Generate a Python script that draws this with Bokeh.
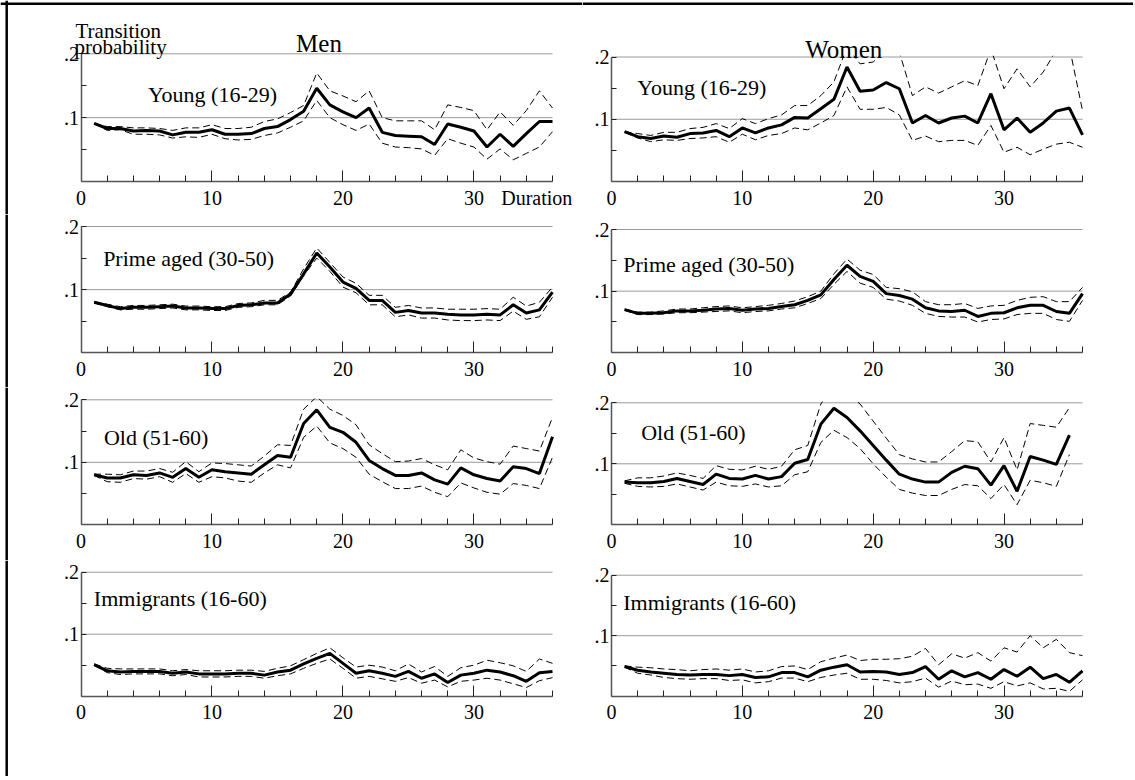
from bokeh.plotting import figure
from bokeh.layouts import row, column
from bokeh.models import Range1d, FixedTicker, Label, Span, BoxAnnotation
from bokeh.embed import file_html
from bokeh.resources import INLINE

duration = list(range(1, 37))
duration35 = list(range(1, 36))

men_young = [0.091,0.083,0.083,0.079,0.080,0.079,0.073,0.077,0.077,0.081,0.074,0.074,0.075,0.083,0.086,0.097,0.110,0.146,0.120,0.109,0.100,0.115,0.077,0.072,0.071,0.070,0.058,0.090,0.085,0.079,0.054,0.074,0.055,0.075,0.094,0.094]
men_young_hi = [0.091,0.086,0.086,0.084,0.084,0.083,0.080,0.084,0.084,0.089,0.083,0.083,0.085,0.094,0.098,0.108,0.119,0.170,0.142,0.134,0.125,0.142,0.100,0.095,0.095,0.095,0.081,0.120,0.116,0.111,0.081,0.109,0.088,0.111,0.142,0.115]
men_young_lo = [0.091,0.080,0.081,0.074,0.074,0.073,0.068,0.070,0.069,0.074,0.067,0.065,0.066,0.072,0.076,0.085,0.095,0.127,0.100,0.089,0.080,0.090,0.060,0.054,0.053,0.051,0.041,0.067,0.060,0.054,0.035,0.051,0.034,0.044,0.054,0.078]

women_young = [0.080,0.072,0.069,0.073,0.071,0.077,0.078,0.082,0.072,0.086,0.078,0.086,0.091,0.103,0.102,0.117,0.132,0.184,0.145,0.147,0.159,0.149,0.094,0.106,0.094,0.102,0.105,0.094,0.141,0.083,0.102,0.079,0.094,0.113,0.118,0.075]
women_young_hi = [0.080,0.077,0.074,0.079,0.079,0.085,0.087,0.093,0.085,0.101,0.093,0.101,0.107,0.122,0.122,0.138,0.160,0.216,0.189,0.192,0.211,0.208,0.138,0.152,0.142,0.152,0.162,0.154,0.213,0.149,0.181,0.152,0.176,0.211,0.216,0.114]
women_young_lo = [0.079,0.070,0.064,0.067,0.066,0.069,0.070,0.072,0.063,0.076,0.067,0.074,0.077,0.086,0.083,0.094,0.106,0.152,0.116,0.116,0.119,0.107,0.066,0.073,0.064,0.066,0.066,0.058,0.090,0.047,0.055,0.043,0.052,0.060,0.063,0.055]

men_prime = [0.080,0.075,0.070,0.072,0.072,0.073,0.074,0.071,0.071,0.070,0.070,0.075,0.076,0.079,0.079,0.093,0.125,0.158,0.136,0.112,0.102,0.083,0.083,0.064,0.067,0.063,0.063,0.061,0.060,0.060,0.061,0.060,0.076,0.063,0.068,0.096]
men_prime_hi = [0.081,0.077,0.073,0.075,0.075,0.076,0.077,0.074,0.074,0.073,0.073,0.078,0.079,0.083,0.083,0.096,0.133,0.166,0.143,0.120,0.110,0.091,0.091,0.072,0.075,0.071,0.071,0.069,0.069,0.069,0.070,0.069,0.088,0.074,0.080,0.104]
men_prime_lo = [0.079,0.073,0.068,0.069,0.069,0.070,0.071,0.068,0.068,0.067,0.067,0.072,0.073,0.076,0.076,0.090,0.122,0.150,0.129,0.104,0.095,0.076,0.076,0.057,0.060,0.055,0.055,0.052,0.051,0.051,0.052,0.051,0.066,0.053,0.057,0.088]

women_prime = [0.070,0.064,0.064,0.065,0.068,0.068,0.069,0.071,0.072,0.069,0.071,0.072,0.075,0.078,0.085,0.094,0.119,0.142,0.124,0.116,0.096,0.093,0.087,0.073,0.068,0.067,0.069,0.059,0.064,0.065,0.073,0.077,0.077,0.067,0.064,0.096]
women_prime_hi = [0.071,0.066,0.066,0.068,0.071,0.071,0.073,0.075,0.076,0.073,0.075,0.077,0.080,0.084,0.091,0.100,0.128,0.152,0.134,0.127,0.106,0.104,0.099,0.083,0.078,0.078,0.080,0.072,0.076,0.077,0.085,0.090,0.091,0.083,0.083,0.106]
women_prime_lo = [0.069,0.062,0.062,0.063,0.065,0.065,0.066,0.067,0.068,0.065,0.067,0.068,0.071,0.073,0.080,0.088,0.111,0.132,0.113,0.106,0.087,0.084,0.077,0.064,0.059,0.058,0.058,0.050,0.054,0.055,0.062,0.064,0.064,0.054,0.051,0.085]

men_old = [0.080,0.075,0.075,0.080,0.079,0.083,0.076,0.090,0.076,0.088,0.085,0.083,0.081,0.096,0.111,0.108,0.162,0.184,0.156,0.148,0.132,0.103,0.090,0.079,0.079,0.083,0.072,0.065,0.091,0.080,0.074,0.070,0.093,0.090,0.082,0.141]
men_old_hi = [0.081,0.081,0.080,0.086,0.086,0.090,0.084,0.101,0.085,0.099,0.098,0.096,0.094,0.110,0.128,0.127,0.185,0.205,0.185,0.175,0.160,0.128,0.114,0.101,0.102,0.106,0.096,0.088,0.120,0.107,0.101,0.097,0.126,0.122,0.118,0.172]
men_old_lo = [0.079,0.069,0.068,0.074,0.073,0.077,0.068,0.082,0.068,0.077,0.075,0.070,0.068,0.083,0.096,0.091,0.140,0.158,0.131,0.122,0.108,0.081,0.069,0.058,0.058,0.062,0.052,0.045,0.067,0.059,0.052,0.049,0.066,0.063,0.058,0.108]

women_old = [0.070,0.069,0.069,0.071,0.076,0.071,0.066,0.083,0.076,0.075,0.081,0.075,0.079,0.101,0.107,0.165,0.191,0.176,0.154,0.130,0.106,0.083,0.075,0.070,0.070,0.086,0.096,0.092,0.065,0.097,0.055,0.112,0.106,0.099,0.147]
women_old_hi = [0.072,0.077,0.077,0.080,0.085,0.081,0.076,0.097,0.091,0.090,0.096,0.091,0.096,0.123,0.130,0.198,0.230,0.215,0.198,0.170,0.142,0.115,0.108,0.103,0.103,0.120,0.138,0.136,0.103,0.143,0.090,0.166,0.163,0.160,0.192]
women_old_lo = [0.068,0.063,0.062,0.063,0.067,0.062,0.057,0.070,0.064,0.063,0.067,0.062,0.064,0.082,0.087,0.135,0.155,0.143,0.125,0.100,0.078,0.058,0.052,0.048,0.048,0.058,0.066,0.064,0.043,0.066,0.033,0.073,0.069,0.063,0.115]

men_imm = [0.051,0.041,0.039,0.040,0.040,0.040,0.037,0.039,0.036,0.036,0.036,0.037,0.037,0.034,0.039,0.042,0.052,0.061,0.069,0.053,0.037,0.041,0.037,0.032,0.040,0.029,0.036,0.022,0.034,0.037,0.042,0.039,0.033,0.024,0.038,0.040]
men_imm_hi = [0.052,0.045,0.044,0.044,0.044,0.044,0.041,0.043,0.041,0.041,0.041,0.042,0.042,0.040,0.045,0.049,0.059,0.069,0.078,0.062,0.047,0.050,0.047,0.041,0.052,0.039,0.048,0.032,0.046,0.050,0.058,0.054,0.049,0.040,0.060,0.053]
men_imm_lo = [0.050,0.038,0.035,0.036,0.036,0.036,0.033,0.035,0.031,0.031,0.031,0.032,0.032,0.029,0.033,0.036,0.045,0.053,0.060,0.045,0.029,0.032,0.028,0.024,0.030,0.021,0.026,0.015,0.024,0.026,0.029,0.026,0.020,0.014,0.025,0.030]

women_imm = [0.049,0.043,0.040,0.038,0.036,0.035,0.036,0.036,0.034,0.036,0.031,0.032,0.039,0.039,0.032,0.043,0.048,0.052,0.040,0.041,0.040,0.036,0.039,0.049,0.028,0.042,0.032,0.039,0.028,0.044,0.033,0.048,0.029,0.036,0.023,0.042]
women_imm_hi = [0.050,0.048,0.047,0.045,0.044,0.042,0.044,0.045,0.043,0.045,0.040,0.042,0.049,0.050,0.044,0.057,0.063,0.068,0.059,0.061,0.061,0.062,0.066,0.079,0.052,0.070,0.063,0.072,0.058,0.080,0.073,0.100,0.080,0.094,0.072,0.067]
women_imm_lo = [0.048,0.038,0.035,0.031,0.029,0.028,0.029,0.029,0.026,0.027,0.022,0.024,0.030,0.030,0.024,0.031,0.035,0.038,0.028,0.028,0.026,0.022,0.024,0.030,0.015,0.025,0.019,0.020,0.013,0.024,0.017,0.022,0.012,0.013,0.008,0.027]

x_major = [0, 10, 20, 30]
x_minor = list(range(2, 37, 2))
y_major = [0.1, 0.2]
y_minor = [0.05, 0.15]
y_labels = {0.1: ".1", 0.2: ".2"}
X_LO, X_HI = 0, 36
Y_LO, Y_HI = 0.0, 0.2

FONT = "Liberation Serif"

# ---- page geometry in pixels (the layout starts at the page's top-left corner) ----
MEN_COL = dict(left=0, width=582, px0=80.5, px36=552.0)
WOMEN_COL = dict(left=582, width=551, px0=611.0, px36=1082.0)
ROWS = [  # canvas top, canvas height, page y of .2 (men, women), page y of 0
    dict(top=0, height=214, men_top=53.3, women_top=56.5, zero=181.0),
    dict(top=214, height=173, men_top=226.0, women_top=229.0, zero=352.3),
    dict(top=387, height=173, men_top=399.3, women_top=402.3, zero=524.3),
    dict(top=560, height=216, men_top=571.7, women_top=574.7, zero=695.7),
]


class Geo:
    def __init__(self, col, rw, top_key):
        self.left = col["left"]
        self.width = col["width"]
        self.px0 = col["px0"]
        self.sx = (col["px36"] - col["px0"]) / (X_HI - X_LO)
        self.top = rw["top"]
        self.height = rw["height"]
        self.py0 = rw["zero"]
        self.sy = (rw["zero"] - rw[top_key]) / (Y_HI - Y_LO)

    def x(self, page_x):
        return (page_x - self.px0) / self.sx

    def y(self, page_y):
        return (self.py0 - page_y) / self.sy


def panel(geo, xs, mid, hi, lo, label, lx, ly):
    p = figure(width=geo.width, height=geo.height,
               x_range=Range1d(geo.x(geo.left), geo.x(geo.left + geo.width)),
               y_range=Range1d(geo.y(geo.top + geo.height), geo.y(geo.top)),
               output_backend="svg", toolbar_location=None, title_location=None,
               min_border=0)
    p.outline_line_color = None
    p.background_fill_color = "white"
    p.border_fill_color = "white"
    p.xgrid.visible = False
    p.ygrid.visible = False

    # horizontal reference lines at .1 and .2 across the duration axis
    p.segment(x0=[X_LO] * len(y_major), x1=[X_HI] * len(y_major), y0=y_major, y1=y_major,
              line_color="#9a9a9a", line_width=1, level="underlay")

    xa = p.xaxis[0]
    ya = p.yaxis[0]
    xa.fixed_location = 0
    ya.fixed_location = 0
    xa.bounds = (X_LO, X_HI)
    ya.bounds = (Y_LO, Y_HI)
    xa.ticker = FixedTicker(ticks=x_major, minor_ticks=x_minor)
    ya.ticker = FixedTicker(ticks=y_major, minor_ticks=y_minor)
    ya.major_label_overrides = y_labels
    for ax in (xa, ya):
        ax.axis_line_color = "#555555"
        ax.axis_line_width = 1.5
        ax.major_tick_out = 0
        ax.minor_tick_out = 0
        ax.major_tick_line_color = "#222222"
        ax.minor_tick_line_color = "#222222"
        ax.major_label_text_font = FONT
        ax.major_label_text_font_size = "20px"
        ax.major_label_text_color = "black"
    xa.major_tick_in = 11
    xa.minor_tick_in = 6
    xa.major_label_standoff = 9
    ya.major_tick_in = 5
    ya.minor_tick_in = 5
    ya.major_label_standoff = 2

    p.line(xs, hi, line_color="black", line_width=1, line_dash="7 4")
    p.line(xs, lo, line_color="black", line_width=1, line_dash="7 4")
    p.line(xs, mid, line_color="black", line_width=3)

    # plot region ends at .2: hide anything drawn above it
    p.add_layout(BoxAnnotation(left=X_LO, right=geo.x(geo.left + geo.width),
                               bottom=Y_HI + 1.2 / geo.sy, top=geo.y(geo.top),
                               fill_color="white", fill_alpha=1.0, line_color=None))
    p.add_layout(Label(x=lx, y=ly, text=label, text_font=FONT, text_font_size="22px",
                       text_baseline="alphabetic", text_align="left", text_color="black"))
    return p


def text(p, geo, page_x, page_y, txt, size, align="left", baseline="alphabetic"):
    p.add_layout(Label(x=geo.x(page_x), y=geo.y(page_y), text=txt, text_font=FONT,
                       text_font_size=size, text_align=align, text_baseline=baseline,
                       text_color="black"))


g = [(Geo(MEN_COL, r, "men_top"), Geo(WOMEN_COL, r, "women_top")) for r in ROWS]

m1 = panel(g[0][0], duration, men_young, men_young_hi, men_young_lo, "Young (16-29)", 5.11, 0.136)
w1 = panel(g[0][1], duration, women_young, women_young_hi, women_young_lo, "Young (16-29)", 1.97, 0.1507)
m2 = panel(g[1][0], duration, men_prime, men_prime_hi, men_prime_lo, "Prime aged (30-50)", 1.69, 0.149)
w2 = panel(g[1][1], duration, women_prime, women_prime_hi, women_prime_lo, "Prime aged (30-50)", 0.9, 0.1435)
m3 = panel(g[2][0], duration, men_old, men_old_hi, men_old_lo, "Old (51-60)", 1.75, 0.139)
w3 = panel(g[2][1], duration35, women_old, women_old_hi, women_old_lo, "Old (51-60)", 2.27, 0.151)
m4 = panel(g[3][0], duration, men_imm, men_imm_hi, men_imm_lo, "Immigrants (16-60)", 0.98, 0.157)
w4 = panel(g[3][1], duration, women_imm, women_imm_hi, women_imm_lo, "Immigrants (16-60)", 0.9, 0.155)

# captions above / beside the first row
text(m1, g[0][0], 75, 30, "Transition", "21px")
text(m1, g[0][0], 74, 46.5, "probability", "21px")
text(m1, g[0][0], 318.5, 43.3, "Men", "25px", align="center")
text(w1, g[0][1], 843.3, 49.2, "Women", "25px", align="center")
text(m1, g[0][0], 500.7, 186.0, "Duration", "20px", baseline="top")

# outer frame: line along the top and down the left edge
for p, geo in ((m1, g[0][0]), (w1, g[0][1])):
    p.add_layout(Span(location=geo.y(3.2), dimension="width", line_color="black", line_width=2.5))
for p, geo in ((m1, g[0][0]), (m2, g[1][0]), (m3, g[2][0]), (m4, g[3][0])):
    p.add_layout(Span(location=geo.x(6.2), dimension="height", line_color="black", line_width=2.5))

layout = column(row(m1, w1), row(m2, w2), row(m3, w3), row(m4, w4))

open("out.html", "w").write(file_html(layout, INLINE))
